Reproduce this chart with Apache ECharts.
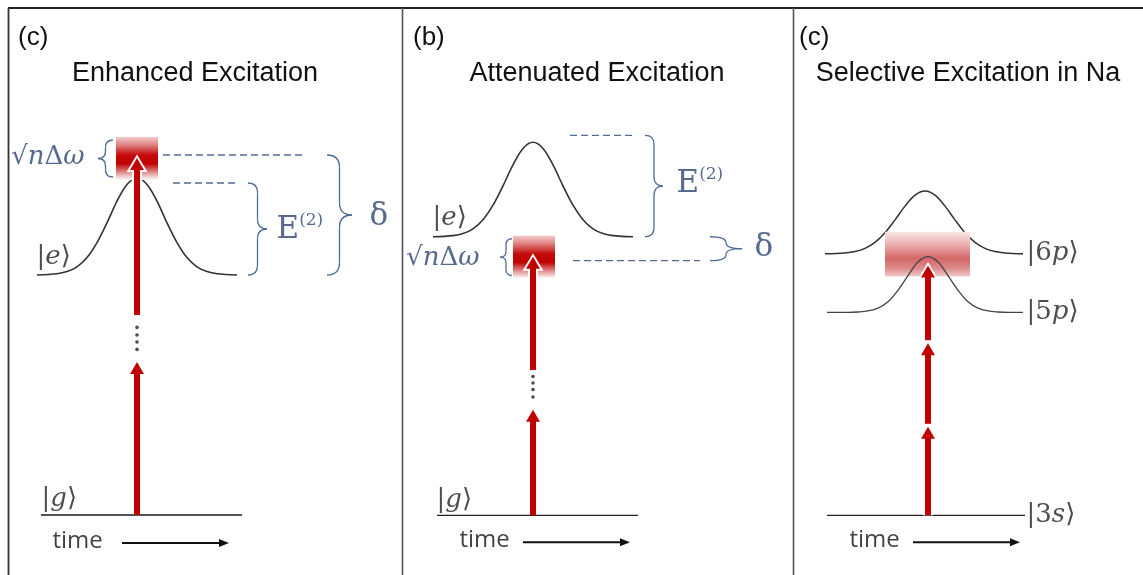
<!DOCTYPE html>
<html><head><meta charset="utf-8">
<script src="https://cdn.jsdelivr.net/npm/echarts@6/dist/echarts.min.js"></script>
<style>html,body{margin:0;padding:0;background:#fff}#c{width:1143px;height:575px}</style>
</head><body><div id="c"></div><script>
// ---------------- DATA (time in arbitrary units, energy in arbitrary units) ----------------
const panelTags = ['(c)', '(b)', '(c)'];
const panelTitles = ['Enhanced Excitation', 'Attenuated Excitation', 'Selective Excitation in Na'];

// Panel 1: excited level |e> (Stark-shifted bump)
const p1Time  = [0, 1, 1.5, 2, 2.5, 3, 3.5, 4, 4.5, 5, 5.5, 6, 6.5, 7, 7.5, 8, 8.5, 9, 10];
const p1Level = [12.0, 12.06, 12.17, 12.41, 12.87, 13.62, 14.61, 15.69, 16.53, 16.85, 16.53, 15.69, 14.61, 13.62, 12.87, 12.41, 12.17, 12.06, 12.0];
// Panel 2: excited level |e>
const p2Time  = [0, 1, 1.5, 2, 2.5, 3, 3.5, 4, 4.5, 5, 5.5, 6, 6.5, 7, 7.5, 8, 8.5, 9, 10];
const p2Level = [14.0, 14.06, 14.16, 14.40, 14.86, 15.59, 16.56, 17.61, 18.44, 18.75, 18.44, 17.61, 16.56, 15.59, 14.86, 14.40, 14.16, 14.06, 14.0];
// Panel 3: |6p> and |5p> levels
const p3Time6p  = [-0.05, 0.95, 1.45, 1.95, 2.45, 2.95, 3.45, 3.95, 4.45, 4.95, 5.45, 5.95, 6.45, 6.95, 7.45, 7.95, 8.45, 8.95, 9.85];
const p3Level6p = [13.15, 13.19, 13.26, 13.42, 13.72, 14.20, 14.85, 15.54, 16.09, 16.30, 16.09, 15.54, 14.85, 14.20, 13.72, 13.42, 13.26, 13.19, 13.15];
const p3Time5p  = [0.05, 1.1, 1.6, 2.1, 2.6, 3.1, 3.6, 4.1, 4.6, 5.1, 5.6, 6.1, 6.6, 7.1, 7.6, 8.1, 8.6, 9.1, 9.85];
const p3Level5p = [10.2, 10.2, 10.22, 10.27, 10.41, 10.73, 11.31, 12.05, 12.73, 13.0, 12.73, 12.05, 11.31, 10.73, 10.41, 10.27, 10.22, 10.2, 10.2];

// ground levels [panel, tStart, tEnd, E]
const groundLevels = [[0, 0.2, 10.25, 0], [1, 0.2, 10.25, 0], [2, 0.05, 9.95, 0]];
// dashed guide lines [panel, tStart, tEnd, E]
const dashedLines = [[0, 6.3, 13.3, 18.0], [0, 6.8, 9.95, 16.6], [1, 6.85, 10.0, 19.1], [1, 7.0, 13.35, 12.8]];
// photon arrows [panel, t, Efrom, Eto, outlined]
const photonArrows = [[0, 5, 0, 7.65, 0], [0, 5, 10.0, 17.85, 1], [1, 5, 0, 5.3, 0], [1, 5, 7.3, 13.0, 1],
                      [2, 5.1, 0, 4.45, 1], [2, 5.1, 4.6, 8.65, 1], [2, 5.1, 8.8, 12.55, 1]];
// ellipsis dots [panel, t, E]
const ellipsisDots = [[0, 5, 9.38], [0, 5, 9.0], [0, 5, 8.65], [0, 5, 8.28], [1, 5, 6.98], [1, 5, 6.65], [1, 5, 6.32], [1, 5, 5.95]];
// multiphoton energy spread boxes [panel, tStart, tEnd, Etop, Ebottom]
const pulseBoxes = [[0, 3.95, 6.05, 18.9, 16.75], [1, 4.0, 6.1, 14.05, 11.9]];
const pulseBands = [[2, 2.95, 7.2, 14.25, 12.0]];
// braces [panel, tEnds, tTip, Etop, Ebottom]
const braces = [[0, 3.8, 3.05, 18.75, 16.9], [0, 10.55, 11.5, 16.6, 12.0], [0, 14.5, 15.75, 18.0, 12.0],
                [1, 10.6, 11.5, 19.1, 14.0], [1, 3.95, 3.35, 13.9, 12.05], [1, 13.85, 15.45, 14.0, 12.8]];
// time arrows [panel, tStart, tEnd, E]
const timeArrows = [[0, 4.25, 9.6, -1.4], [1, 4.5, 9.85, -1.35], [2, 4.35, 9.7, -1.35]];
// labels [panel, t, E, text, kind, align]
const labels = [
  [0, 2.4, 17.85, '√{i|n}Δ{i|ω}', 'blue', 'right'],
  [0, 0, 12.85, '|{i|e}\u27E9', 'state', 'left'],
  [0, 0.25, 0.75, '|{i|g}\u27E9', 'state', 'left'],
  [0, 12.0, 14.25, '{E|E}{s|(2)}', 'blue', 'left'],
  [0, 16.65, 14.9, 'δ', 'big', 'left'],
  [0, 0.8, -1.35, 'time', 'time', 'left'],
  [1, 2.35, 12.9, '√{i|n}Δ{i|ω}', 'blue', 'right'],
  [1, 0, 14.9, '|{i|e}\u27E9', 'state', 'left'],
  [1, 0.2, 0.75, '|{i|g}\u27E9', 'state', 'left'],
  [1, 12.2, 16.65, '{E|E}{s|(2)}', 'blue', 'left'],
  [1, 16.1, 13.4, 'δ', 'big', 'left'],
  [1, 1.35, -1.25, 'time', 'time', 'left'],
  [2, 10.05, 13.15, '|6{i|p}\u27E9', 'state', 'left'],
  [2, 10.05, 10.2, '|5{i|p}\u27E9', 'state', 'left'],
  [2, 10.05, 0, '|3{i|s}\u27E9', 'state', 'left'],
  [2, 1.2, -1.25, 'time', 'time', 'left']
];

// ---------------- LAYOUT / STYLE ----------------
const serif = "'DejaVu Serif', 'Liberation Serif', serif";
const sans = "'Liberation Sans', Arial, sans-serif";
const RED = '#C00000', BLUE_TXT = '#2E4372', BLUE_BRACE = '#4F6A98', BLUE_DASH = '#566B94';
const panelLeft = [8, 402, 793], panelRight = [402, 793, 1143];
const origin = [37, 433, 826];     // pixel where t = 0
const gridTop = [0, 3, 3];
const PX = 20;                       // px per unit

const grid = [0, 1, 2].map(i => ({left: panelLeft[i], width: panelRight[i] - panelLeft[i], top: gridTop[i], height: 575}));
const xAxis = [0, 1, 2].map(i => ({type: 'value', gridIndex: i, show: false, min: (panelLeft[i] - origin[i]) / PX, max: (panelRight[i] - origin[i]) / PX}));
const yAxis = [0, 1, 2].map(i => ({type: 'value', gridIndex: i, show: false, min: -3, max: 25.75}));

const series = [];
const base = p => ({xAxisIndex: p, yAxisIndex: p, silent: true, animation: false});

function curve(p, ts, es, color, width, z) {
  series.push(Object.assign(base(p), {type: 'line', data: ts.map((t, k) => [t, es[k]]), smooth: 0.35, symbol: 'none',
    lineStyle: {color, width}, z}));
}
curve(0, p1Time, p1Level, '#333', 1.6, 2);
curve(1, p2Time, p2Level, '#333', 1.6, 2);
curve(2, p3Time6p, p3Level6p, '#333', 1.5, 2);

groundLevels.forEach(g => series.push(Object.assign(base(g[0]), {type: 'line', data: [[g[1], g[3]], [g[2], g[3]]], symbol: 'none',
  lineStyle: {color: g[0] === 0 ? '#555' : '#222', width: g[0] === 0 ? 1.8 : 1.3}, z: 2})));

dashedLines.forEach(d => series.push(Object.assign(base(d[0]), {type: 'line', data: [[d[1], d[3]], [d[2], d[3]]], symbol: 'none',
  lineStyle: {color: BLUE_DASH, width: 1.3, type: [7, 4]}, z: 2})));

function boxRender(stops) {
  return function (params, api) {
    const a = api.coord([api.value(0), api.value(2)]);
    const b = api.coord([api.value(1), api.value(3)]);
    return {type: 'rect', shape: {x: a[0], y: a[1], width: b[0] - a[0], height: b[1] - a[1]},
      style: {fill: new echarts.graphic.LinearGradient(0, 0, 0, 1, stops)}};
  };
}
const boxStops = [{offset: 0, color: '#F2CACA'}, {offset: 0.2, color: '#DD7A7A'}, {offset: 0.42, color: '#C40A0A'},
  {offset: 0.62, color: '#C00000'}, {offset: 0.85, color: '#E6A0A0'}, {offset: 1, color: '#FFFFFF'}];
const bandStops = [{offset: 0, color: '#F8E6E6'}, {offset: 0.25, color: '#EDB6B6'}, {offset: 0.6, color: '#D46868'},
  {offset: 0.82, color: '#DD8C8C'}, {offset: 1, color: '#F2CCCC'}];
[0, 1].forEach(p => series.push(Object.assign(base(p), {type: 'custom', clip: false, z: 3,
  data: pulseBoxes.filter(b => b[0] === p).map(b => b.slice(1)), renderItem: boxRender(boxStops)})));
series.push(Object.assign(base(2), {type: 'custom', clip: false, z: 3,
  data: pulseBands.map(b => b.slice(1)), renderItem: boxRender(bandStops)}));

curve(2, p3Time5p, p3Level5p, '#444', 1.3, 4);

function arrowRender(params, api) {
  const t = api.value(0), e0 = api.value(1), e1 = api.value(2), out = api.value(3);
  const b = api.coord([t, e0]), tp = api.coord([t, e1]);
  const x = tp[0], ty = tp[1], by = b[1];
  const SW = 6, HW = 14, HL = 12, hb = ty + HL;
  const ch = [];
  if (out) {
    ch.push({type: 'rect', shape: {x: x - SW / 2 - 2, y: hb - 2, width: SW + 4, height: by - hb + 2}, style: {fill: '#fff'}});
    ch.push({type: 'polygon', shape: {points: [[x, ty - 3.5], [x - HW / 2 - 3.5, hb + 2], [x + HW / 2 + 3.5, hb + 2]]}, style: {fill: '#fff'}});
  }
  ch.push({type: 'rect', shape: {x: x - SW / 2, y: hb - 1, width: SW, height: by - hb + 1}, style: {fill: RED}});
  ch.push({type: 'polygon', shape: {points: [[x, ty], [x - HW / 2, hb], [x + HW / 2, hb]]}, style: {fill: RED}});
  return {type: 'group', children: ch};
}
[0, 1, 2].forEach(p => series.push(Object.assign(base(p), {type: 'custom', clip: false, z: 5,
  data: photonArrows.filter(a => a[0] === p).map(a => a.slice(1)), renderItem: arrowRender})));

[0, 1].forEach(p => series.push(Object.assign(base(p), {type: 'scatter', z: 5, symbolSize: 3.6,
  itemStyle: {color: '#222'}, data: ellipsisDots.filter(d => d[0] === p).map(d => [d[1], d[2]])})));

function braceRender(params, api) {
  const te = api.value(0), tt = api.value(1);
  const pT = api.coord([te, api.value(2)]), pB = api.coord([te, api.value(3)]);
  const xe = pT[0], xt = api.coord([tt, api.value(2)])[0];
  const yT = pT[1], yB = pB[1], yM = (yT + yB) / 2, xm = (xe + xt) / 2;
  const r = Math.min(Math.abs(xt - xe) / 2, (yB - yT) / 4);
  const st = {stroke: BLUE_BRACE, lineWidth: 1.3, fill: null};
  return {type: 'group', children: [
    {type: 'bezierCurve', shape: {x1: xe, y1: yT, cpx1: xm, cpy1: yT, x2: xm, y2: yT + r}, style: st},
    {type: 'line', shape: {x1: xm, y1: yT + r, x2: xm, y2: yM - r}, style: st},
    {type: 'bezierCurve', shape: {x1: xm, y1: yM - r, cpx1: xm, cpy1: yM, x2: xt, y2: yM}, style: st},
    {type: 'bezierCurve', shape: {x1: xt, y1: yM, cpx1: xm, cpy1: yM, x2: xm, y2: yM + r}, style: st},
    {type: 'line', shape: {x1: xm, y1: yM + r, x2: xm, y2: yB - r}, style: st},
    {type: 'bezierCurve', shape: {x1: xm, y1: yB - r, cpx1: xm, cpy1: yB, x2: xe, y2: yB}, style: st}
  ]};
}
[0, 1].forEach(p => series.push(Object.assign(base(p), {type: 'custom', clip: false, z: 4,
  data: braces.filter(b => b[0] === p).map(b => b.slice(1)), renderItem: braceRender})));

function timeArrowRender(params, api) {
  const a = api.coord([api.value(0), api.value(2)]), b = api.coord([api.value(1), api.value(2)]);
  return {type: 'group', children: [
    {type: 'line', shape: {x1: a[0], y1: a[1], x2: b[0] - 8, y2: b[1]}, style: {stroke: '#111', lineWidth: 2}},
    {type: 'polygon', shape: {points: [[b[0], b[1]], [b[0] - 10, b[1] - 4], [b[0] - 10, b[1] + 4]]}, style: {fill: '#111'}}
  ]};
}
[0, 1, 2].forEach(p => series.push(Object.assign(base(p), {type: 'custom', clip: false, z: 4,
  data: timeArrows.filter(a => a[0] === p).map(a => a.slice(1)), renderItem: timeArrowRender})));

const kindStyle = {
  state: {fontFamily: serif, fontSize: 26, color: '#222'},
  blue: {fontFamily: serif, fontSize: 26, color: BLUE_TXT},
  big: {fontFamily: serif, fontSize: 31, color: BLUE_TXT},
  time: {fontFamily: "'Open Sans', sans-serif", fontSize: 24, color: '#111'}
};
[0, 1, 2].forEach(p => series.push(Object.assign(base(p), {type: 'scatter', z: 6, symbolSize: 1,
  itemStyle: {color: 'rgba(0,0,0,0)'},
  data: labels.filter(l => l[0] === p).map(l => {
    const ks = kindStyle[l[4]];
    return {value: [l[1], l[2]], label: Object.assign({show: true, position: [0, 0], align: l[5], verticalAlign: 'middle',
      formatter: l[3], rich: {
        i: {fontFamily: ks.fontFamily, fontSize: ks.fontSize, color: ks.color, fontStyle: 'italic'},
        E: {fontFamily: ks.fontFamily, fontSize: 31, color: ks.color, lineHeight: 34},
        s: {fontFamily: ks.fontFamily, fontSize: 17, color: ks.color, verticalAlign: 'top', lineHeight: 18}
      }}, ks)};
  })
})));

const graphic = [
  {type: 'line', shape: {x1: 8, y1: 8, x2: 1143, y2: 8}, style: {stroke: '#222', lineWidth: 2}, silent: true},
  {type: 'line', shape: {x1: 8.5, y1: 8, x2: 8.5, y2: 575}, style: {stroke: '#333', lineWidth: 1.8}, silent: true},
  {type: 'line', shape: {x1: 402.5, y1: 8, x2: 402.5, y2: 575}, style: {stroke: '#555', lineWidth: 1.6}, silent: true},
  {type: 'line', shape: {x1: 793.5, y1: 8, x2: 793.5, y2: 575}, style: {stroke: '#555', lineWidth: 1.6}, silent: true}
];
const tagX = [18, 413, 799], titleX = [195, 597, 968];
[0, 1, 2].forEach(i => {
  graphic.push({type: 'text', x: tagX[i], y: 38, silent: true,
    style: {text: panelTags[i], font: '26px ' + sans, fill: '#111', align: 'left', verticalAlign: 'middle'}});
  graphic.push({type: 'text', x: titleX[i], y: 74, silent: true,
    style: {text: panelTitles[i], font: '27px ' + sans, fill: '#111', align: 'center', verticalAlign: 'middle'}});
});

const chart = echarts.init(document.getElementById('c'));
chart.setOption({animation: false, backgroundColor: '#fff', grid, xAxis, yAxis, series, graphic});
</script></body></html>
